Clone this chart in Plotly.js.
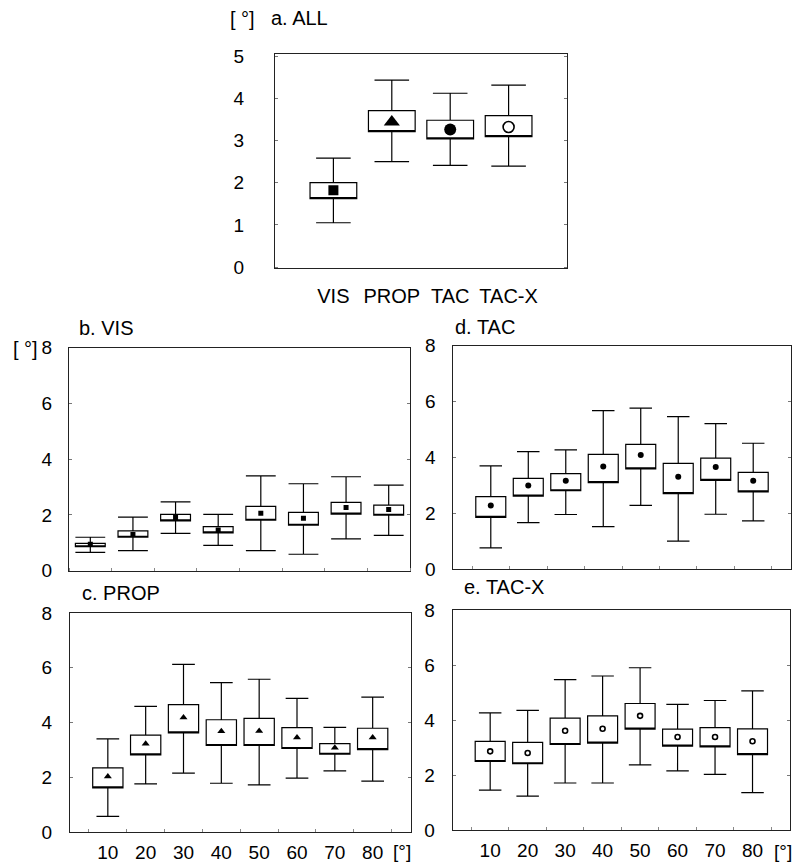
<!DOCTYPE html>
<html>
<head>
<meta charset="utf-8">
<script src="https://cdn.plot.ly/plotly-3.0.1.min.js"></script>
<style>html,body{margin:0;padding:0;background:#fff;}#chart{width:794px;height:868px;}</style>
</head>
<body>
<div id="chart"></div>
<script>
// ---------- DATA ----------
// a. ALL
const allCats   = ['VIS', 'PROP', 'TAC', 'TAC-X'];
const allUpper  = [2.58, 4.43, 4.12, 4.31];
const allQ3     = [2.00, 3.71, 3.48, 3.59];
const allMean   = [1.82, 3.44, 3.26, 3.32];
const allQ1     = [1.62, 3.21, 3.04, 3.09];
const allLower  = [1.05, 2.50, 2.41, 2.39];

// angle categories
const angles = [10, 20, 30, 40, 50, 60, 70, 80];
const angleLabels = ['10', '20', '30', '40', '50', '60', '70', '80'];

// b. VIS
const visUpper = [1.20, 1.92, 2.47, 2.02, 3.40, 3.12, 3.37, 3.07];
const visQ3    = [0.98, 1.43, 2.02, 1.58, 2.31, 2.09, 2.45, 2.35];
const visMean  = [0.95, 1.30, 1.91, 1.46, 2.06, 1.88, 2.27, 2.20];
const visQ1    = [0.86, 1.20, 1.79, 1.36, 1.81, 1.63, 2.03, 1.99];
const visLower = [0.66, 0.72, 1.34, 0.91, 0.72, 0.59, 1.14, 1.27];

// c. PROP
const propUpper = [3.40, 4.59, 6.12, 5.46, 5.58, 4.88, 3.82, 4.93];
const propQ3    = [2.34, 3.54, 4.65, 4.10, 4.15, 3.81, 3.23, 3.79];
const propMean  = [2.03, 3.22, 4.18, 3.68, 3.69, 3.45, 3.08, 3.45];
const propQ1    = [1.61, 2.82, 3.62, 3.16, 3.16, 3.05, 2.84, 3.01];
const propLower = [0.57, 1.76, 2.15, 1.78, 1.72, 1.97, 2.23, 1.86];

// d. TAC
const tacUpper = [3.70, 4.21, 4.27, 5.68, 5.77, 5.46, 5.21, 4.51];
const tacQ3    = [2.60, 3.25, 3.42, 4.11, 4.47, 3.79, 3.98, 3.47];
const tacMean  = [2.28, 3.00, 3.17, 3.68, 4.09, 3.31, 3.66, 3.17];
const tacQ1    = [1.86, 2.62, 2.81, 3.10, 3.59, 2.71, 3.18, 2.77];
const tacLower = [0.77, 1.67, 1.96, 1.53, 2.29, 1.01, 1.97, 1.73];

// e. TAC-X
const tacxUpper = [4.26, 4.35, 5.47, 5.60, 5.90, 4.57, 4.71, 5.06];
const tacxQ3    = [3.22, 3.19, 4.07, 4.15, 4.60, 3.67, 3.72, 3.68];
const tacxMean  = [2.86, 2.80, 3.61, 3.68, 4.15, 3.38, 3.38, 3.23];
const tacxQ1    = [2.49, 2.41, 3.11, 3.16, 3.67, 3.05, 3.02, 2.74];
const tacxLower = [1.45, 1.23, 1.71, 1.71, 2.37, 2.15, 2.02, 1.36];

// ---------- HELPERS ----------
const W = 794, H = 868;
const px = x => x / W;
const py = y => 1 - y / H;
const FONT = 'Liberation Sans, Arial, sans-serif';

function boxTrace(x, q1, q3, lo, hi, width, ww, xa, ya) {
  return {
    type: 'box', x: x, q1: q1, median: q1, q3: q3,
    lowerfence: lo, upperfence: hi,
    width: width, whiskerwidth: ww,
    fillcolor: 'white', line: {color: 'black', width: 1.2},
    boxpoints: false, hoverinfo: 'skip', showlegend: false,
    xaxis: xa, yaxis: ya
  };
}
function markTrace(x, y, symbol, size, xa, ya, open) {
  return {
    type: 'scatter', mode: 'markers', x: x, y: y,
    marker: {
      symbol: symbol, size: size,
      color: open ? 'white' : 'black',
      line: {color: 'black', width: open ? 1.6 : 0}
    },
    hoverinfo: 'skip', showlegend: false, xaxis: xa, yaxis: ya
  };
}

const traces = [
  boxTrace(allCats, allQ1, allQ3, allLower, allUpper, 0.8, 0.74, 'x', 'y'),
  markTrace(allCats.slice(0,1), allMean.slice(0,1), 'square', 10, 'x', 'y', false),
  markTrace(allCats.slice(1,2), allMean.slice(1,2), 'triangle-up', 14, 'x', 'y', false),
  markTrace(allCats.slice(2,3), allMean.slice(2,3), 'circle', 12, 'x', 'y', false),
  markTrace(allCats.slice(3,4), allMean.slice(3,4), 'circle', 11, 'x', 'y', true),

  boxTrace(angles, visQ1, visQ3, visLower, visUpper, 7, 1.0, 'x2', 'y2'),
  markTrace(angles, visMean, 'square', 5, 'x2', 'y2', false),

  boxTrace(angles, propQ1, propQ3, propLower, propUpper, 8, 0.75, 'x3', 'y3'),
  markTrace(angles, propMean, 'triangle-up', 7, 'x3', 'y3', false),

  boxTrace(angles, tacQ1, tacQ3, tacLower, tacUpper, 8, 0.75, 'x4', 'y4'),
  markTrace(angles, tacMean, 'circle', 6, 'x4', 'y4', false),

  boxTrace(angles, tacxQ1, tacxQ3, tacxLower, tacxUpper, 8, 0.75, 'x5', 'y5'),
  markTrace(angles, tacxMean, 'circle', 5, 'x5', 'y5', true)
];

function yAxis(dom, range, dtick, standoff, anchor) {
  return {
    domain: dom, range: range, anchor: anchor, dtick: dtick, tick0: 0,
    showline: true, mirror: 'ticks', linecolor: '#222', linewidth: 1,
    ticks: 'inside', ticklen: 3, tickcolor: '#777',
    showgrid: false, zeroline: false, fixedrange: true,
    ticklabelstandoff: standoff,
    tickfont: {family: FONT, size: 19, color: 'black'}
  };
}
function xAxisAngles(dom, range, anchor, labels) {
  return {
    domain: dom, range: range, anchor: anchor,
    showline: true, mirror: true, linecolor: '#222', linewidth: 1,
    showgrid: false, zeroline: false, fixedrange: true,
    tickmode: 'array', tickvals: angles, ticktext: angleLabels,
    ticks: '', showticklabels: labels,
    ticklabelstandoff: 3,
    tickfont: {family: FONT, size: 19, color: 'black'},
    minor: {ticks: 'inside', tick0: 5, dtick: 10, ticklen: 3, tickcolor: '#888', showgrid: false}
  };
}

const layout = {
  width: W, height: H,
  margin: {l: 0, r: 0, t: 0, b: 0},
  paper_bgcolor: 'white', plot_bgcolor: 'white',
  showlegend: false,
  boxmode: 'overlay',
  xaxis: {
    domain: [px(275), px(567)], anchor: 'y',
    type: 'category', categoryorder: 'array', categoryarray: allCats,
    range: [-1, 4],
    showline: true, mirror: true, linecolor: '#222', linewidth: 1,
    showgrid: false, zeroline: false, ticks: '', fixedrange: true,
    ticklabelstandoff: 10,
    tickfont: {family: FONT, size: 20, color: 'black'}
  },
  yaxis: yAxis([py(268.3), py(54)], [-0.03, 5.05], 1, 26, 'x'),
  xaxis2: xAxisAngles([px(69), px(410)], [5, 85], 'y2', false),
  yaxis2: yAxis([py(570.7), py(347.7)], [0, 8], 2, 12, 'x2'),
  xaxis3: xAxisAngles([px(70), px(410.5)], [0, 90], 'y3', true),
  yaxis3: yAxis([py(832), py(613)], [0, 8], 2, 13, 'x3'),
  xaxis4: xAxisAngles([px(453.3), px(790.7)], [0, 90], 'y4', false),
  yaxis4: yAxis([py(569.3), py(345.7)], [0, 8], 2, 13, 'x4'),
  xaxis5: xAxisAngles([px(452.7), px(790)], [0, 90], 'y5', true),
  yaxis5: yAxis([py(830), py(610)], [0, 8], 2, 13, 'x5'),
  annotations: [
    {text: 'a. ALL', x: px(269), y: py(18)},
    {text: '[ °]', x: px(228), y: py(19)},
    {text: 'b. VIS', x: px(77), y: py(328)},
    {text: '[ °]', x: px(11), y: py(349)},
    {text: 'c. PROP', x: px(80), y: py(593)},
    {text: 'd. TAC', x: px(453), y: py(327)},
    {text: 'e. TAC-X', x: px(462), y: py(587)},
    {text: '[°]', x: px(391), y: py(851), font: {family: FONT, size: 19, color: 'black'}},
    {text: '[°]', x: px(772), y: py(851), font: {family: FONT, size: 19, color: 'black'}}
  ].map(a => Object.assign({
    xref: 'paper', yref: 'paper', xanchor: 'left', yanchor: 'middle',
    showarrow: false, font: {family: FONT, size: 20, color: 'black'}
  }, a))
};

Plotly.newPlot('chart', traces, layout, {staticPlot: true, displayModeBar: false});
</script>
</body>
</html>
